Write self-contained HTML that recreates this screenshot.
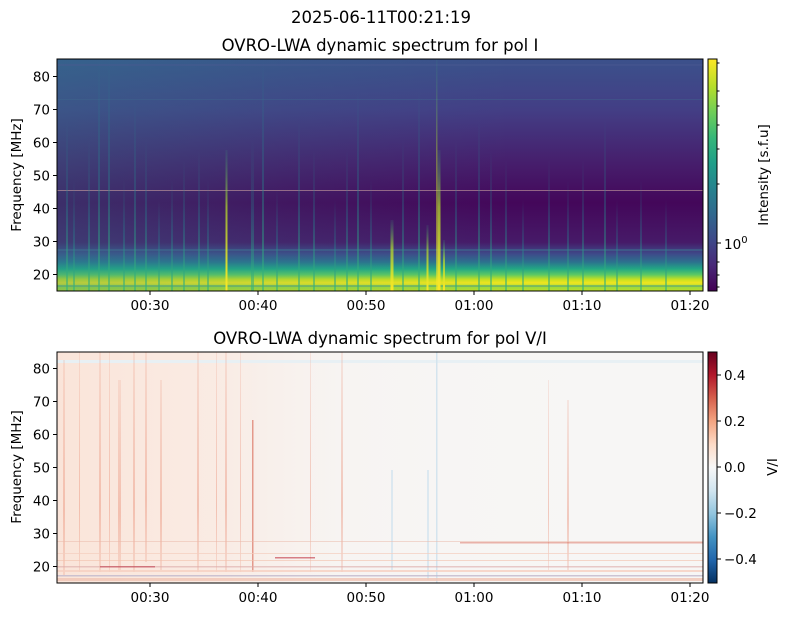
<!DOCTYPE html>
<html><head><meta charset="utf-8"><style>
body{margin:0;background:#fff;}
svg{display:block;font-family:"DejaVu Sans","Liberation Sans",sans-serif;}
</style></head><body>
<svg width="789" height="617" viewBox="0 0 789 617" xmlns="http://www.w3.org/2000/svg">
<defs>
<linearGradient id="vi" x1="0" y1="0" x2="0" y2="1">
<stop offset="0" stop-color="#3b518b"/>
<stop offset="0.22" stop-color="#433e85"/>
<stop offset="0.45" stop-color="#461e6c"/>
<stop offset="0.62" stop-color="#44075a"/>
<stop offset="0.79" stop-color="#461a68"/>
<stop offset="0.84" stop-color="#3e4a89"/>
<stop offset="0.875" stop-color="#2c718e"/>
<stop offset="0.905" stop-color="#22a884"/>
<stop offset="0.93" stop-color="#5ec962"/>
<stop offset="0.95" stop-color="#c8e020"/>
<stop offset="0.965" stop-color="#f0e51f"/>
<stop offset="0.985" stop-color="#9fda3a"/>
<stop offset="1" stop-color="#c0df25"/>
</linearGradient>
<linearGradient id="vih" x1="0" y1="0" x2="1" y2="0">
<stop offset="0" stop-color="#2a8a8e" stop-opacity="0.3"/>
<stop offset="0.35" stop-color="#2a8a8e" stop-opacity="0.12"/>
<stop offset="0.7" stop-color="#2a8a8e" stop-opacity="0"/>
</linearGradient>
<linearGradient id="cbv" x1="0" y1="1" x2="0" y2="0">
<stop offset="0" stop-color="#440154"/><stop offset="0.11" stop-color="#482878"/>
<stop offset="0.22" stop-color="#3e4989"/><stop offset="0.33" stop-color="#31688e"/>
<stop offset="0.44" stop-color="#26828e"/><stop offset="0.55" stop-color="#1f9e89"/>
<stop offset="0.66" stop-color="#35b779"/><stop offset="0.77" stop-color="#6ece58"/>
<stop offset="0.88" stop-color="#b5de2b"/><stop offset="1" stop-color="#fde725"/>
</linearGradient>
<linearGradient id="cbr" x1="0" y1="1" x2="0" y2="0">
<stop offset="0" stop-color="#053061"/><stop offset="0.1" stop-color="#2166ac"/>
<stop offset="0.2" stop-color="#4393c3"/><stop offset="0.3" stop-color="#92c5de"/>
<stop offset="0.4" stop-color="#d1e5f0"/><stop offset="0.5" stop-color="#f7f7f7"/>
<stop offset="0.6" stop-color="#fddbc7"/><stop offset="0.7" stop-color="#f4a582"/>
<stop offset="0.8" stop-color="#d6604d"/><stop offset="0.9" stop-color="#b2182b"/>
<stop offset="1" stop-color="#67001f"/>
</linearGradient>
<linearGradient id="burst" x1="0" y1="0" x2="0" y2="1">
<stop offset="0" stop-color="#26828e" stop-opacity="0"/>
<stop offset="0.5" stop-color="#26828e" stop-opacity="0.35"/>
<stop offset="1" stop-color="#35b779" stop-opacity="0.6"/>
</linearGradient>
<linearGradient id="ybur" x1="0" y1="0" x2="0" y2="1">
<stop offset="0" stop-color="#35b779" stop-opacity="0.1"/>
<stop offset="0.4" stop-color="#b5de2b" stop-opacity="0.7"/>
<stop offset="1" stop-color="#fde725"/>
</linearGradient>
<linearGradient id="redh" x1="0" y1="0" x2="1" y2="0">
<stop offset="0" stop-color="#fbe0d2" stop-opacity="0.8"/>
<stop offset="0.25" stop-color="#fbe4d8" stop-opacity="0.6"/>
<stop offset="0.45" stop-color="#f7f0ec" stop-opacity="0.3"/>
<stop offset="1" stop-color="#f7f7f7" stop-opacity="0"/>
</linearGradient>
<linearGradient id="rfade" x1="0" y1="0" x2="0" y2="1">
<stop offset="0" stop-color="#e8846a" stop-opacity="0.15"/>
<stop offset="0.7" stop-color="#e8846a" stop-opacity="0.4"/>
<stop offset="1" stop-color="#e8846a" stop-opacity="0.2"/>
</linearGradient>
</defs>

<text x="381" y="23" font-size="16.5" text-anchor="middle" fill="#000">2025-06-11T00:21:19</text>
<text x="380" y="51" font-size="16.5" text-anchor="middle" fill="#000">OVRO-LWA dynamic spectrum for pol I</text>
<text x="380" y="344" font-size="16.5" text-anchor="middle" fill="#000">OVRO-LWA dynamic spectrum for pol V/I</text>

<g>
<rect x="57" y="59" width="646" height="232" fill="url(#vi)"/>
<rect x="57" y="59" width="646" height="232" fill="url(#vih)"/>
<rect x="57" y="64" width="646" height="2" fill="#4a5a90" opacity="0.4"/>
<rect x="57" y="99" width="646" height="1" fill="#3e6a8e" opacity="0.4"/>
<rect x="57" y="190" width="646" height="1" fill="#c9a0a0" opacity="0.6"/>
<rect x="57" y="249" width="646" height="2" fill="#3e6a8e" opacity="0.6"/>
<rect x="57" y="285" width="646" height="2" fill="#3e9a8a" opacity="0.5"/>
<g fill="url(#burst)">
<rect x="66" y="120" width="2" height="171"/>
<rect x="73" y="180" width="2" height="111"/>
<rect x="88" y="140" width="2" height="151"/>
<rect x="98" y="59" width="2" height="232"/>
<rect x="108" y="59" width="2" height="232"/>
<rect x="123" y="180" width="2" height="111"/>
<rect x="134" y="100" width="2" height="191"/>
<rect x="145" y="140" width="2" height="151"/>
<rect x="158" y="200" width="2" height="91"/>
<rect x="171" y="180" width="2" height="111"/>
<rect x="183" y="160" width="2" height="131"/>
<rect x="198" y="150" width="2" height="141"/>
<rect x="207" y="180" width="2" height="111"/>
<rect x="251" y="140" width="3" height="151"/>
<rect x="262" y="59" width="2" height="232"/>
<rect x="276" y="190" width="2" height="101"/>
<rect x="298" y="120" width="2" height="171"/>
<rect x="313" y="150" width="2" height="141"/>
<rect x="334" y="200" width="2" height="91"/>
<rect x="346" y="150" width="2" height="141"/>
<rect x="357" y="90" width="2" height="201"/>
<rect x="370" y="180" width="2" height="111"/>
<rect x="402" y="140" width="2" height="151"/>
<rect x="418" y="90" width="2" height="201"/>
<rect x="455" y="140" width="2" height="151"/>
<rect x="478" y="120" width="2" height="171"/>
<rect x="490" y="150" width="2" height="141"/>
<rect x="505" y="160" width="2" height="131"/>
<rect x="522" y="200" width="2" height="91"/>
<rect x="548" y="160" width="2" height="131"/>
<rect x="567" y="180" width="2" height="111"/>
<rect x="582" y="160" width="2" height="131"/>
<rect x="604" y="120" width="2" height="171"/>
<rect x="616" y="200" width="2" height="91"/>
<rect x="640" y="180" width="2" height="111"/>
<rect x="665" y="200" width="2" height="91"/>
</g>
<g fill="url(#ybur)">
<rect x="225.5" y="150" width="2" height="141"/>
<rect x="390.5" y="220" width="3" height="71"/>
<rect x="426.5" y="225" width="2" height="66"/>
<rect x="436" y="59" width="1.5" height="232" opacity="0.6"/>
<rect x="437.5" y="150" width="3" height="141"/>
<rect x="443" y="240" width="2" height="51"/>
</g>
<rect x="57" y="59" width="646" height="232" fill="none" stroke="#000" stroke-width="1"/>
</g>
<rect x="708" y="59" width="9" height="232" fill="url(#cbv)" stroke="#000" stroke-width="1"/>
<g stroke="#000" stroke-width="1">
<line x1="717" y1="243" x2="721" y2="243"/>
<line x1="717" y1="63" x2="719.5" y2="63"/><line x1="717" y1="91" x2="719.5" y2="91"/>
<line x1="717" y1="106" x2="719.5" y2="106"/><line x1="717" y1="125" x2="719.5" y2="125"/>
<line x1="717" y1="149" x2="719.5" y2="149"/><line x1="717" y1="184" x2="719.5" y2="184"/>
<line x1="717" y1="262" x2="719.5" y2="262"/><line x1="717" y1="275" x2="719.5" y2="275"/>
<line x1="717" y1="287" x2="719.5" y2="287"/>
</g>
<text x="724" y="249" font-size="13.5">10<tspan dy="-6" font-size="10">0</tspan></text>
<text transform="translate(768,175) rotate(-90)" font-size="13.5" text-anchor="middle">Intensity [s.f.u]</text>

<g stroke="#000" stroke-width="1">
<line x1="53" y1="76.5" x2="57" y2="76.5"/><line x1="53" y1="109.5" x2="57" y2="109.5"/>
<line x1="53" y1="142.5" x2="57" y2="142.5"/><line x1="53" y1="175.5" x2="57" y2="175.5"/>
<line x1="53" y1="208.5" x2="57" y2="208.5"/><line x1="53" y1="241.5" x2="57" y2="241.5"/>
<line x1="53" y1="274.5" x2="57" y2="274.5"/>
<line x1="150" y1="291" x2="150" y2="295"/><line x1="258" y1="291" x2="258" y2="295"/>
<line x1="366" y1="291" x2="366" y2="295"/><line x1="474" y1="291" x2="474" y2="295"/>
<line x1="582" y1="291" x2="582" y2="295"/><line x1="690" y1="291" x2="690" y2="295"/>
</g>
<g font-size="13.5" text-anchor="end">
<text x="50" y="81.5">80</text><text x="50" y="114.5">70</text><text x="50" y="147.5">60</text>
<text x="50" y="180.5">50</text><text x="50" y="213.5">40</text><text x="50" y="246.5">30</text><text x="50" y="279.5">20</text>
</g>
<g font-size="13.5" text-anchor="middle">
<text x="150" y="310">00:30</text><text x="258" y="310">00:40</text><text x="366" y="310">00:50</text>
<text x="474" y="310">01:00</text><text x="582" y="310">01:10</text><text x="690" y="310">01:20</text>
</g>
<text transform="translate(21,175) rotate(-90)" font-size="13.5" text-anchor="middle">Frequency [MHz]</text>

<g>
<rect x="57" y="352" width="646" height="231" fill="#f7f6f5"/>
<rect x="57" y="352" width="646" height="231" fill="url(#redh)"/>
<rect x="57" y="360" width="646" height="3" fill="#e8f0f4"/>
<g fill="url(#rfade)">
<rect x="63" y="360" width="2" height="215"/><rect x="79" y="352" width="1" height="220"/>
<rect x="99" y="352" width="2" height="220"/><rect x="109" y="352" width="1" height="220"/>
<rect x="118" y="380" width="3" height="190"/><rect x="133" y="352" width="2" height="220"/>
<rect x="145" y="352" width="2" height="210"/><rect x="160" y="380" width="2" height="190"/>
<rect x="197" y="352" width="2" height="220"/><rect x="216" y="352" width="1" height="220"/>
<rect x="240" y="352" width="1" height="220"/><rect x="310" y="352" width="1" height="220"/>
<rect x="341" y="352" width="2" height="220"/><rect x="548" y="380" width="1" height="190"/>
<rect x="567" y="400" width="2" height="170"/><rect x="225" y="352" width="2" height="220"/>
</g>
<rect x="252" y="420" width="1.5" height="152" fill="#d6604d" opacity="0.6"/>
<rect x="436" y="352" width="1.5" height="231" fill="#d4e4ee"/>
<rect x="391" y="470" width="2" height="100" fill="#dce8f0"/>
<rect x="427" y="470" width="2" height="110" fill="#dce8f0"/>
<rect x="57" y="541" width="646" height="1" fill="#eab8a8" opacity="0.5"/>
<rect x="460" y="542" width="243" height="1.5" fill="#d6604d" opacity="0.45"/>
<rect x="57" y="553" width="646" height="1" fill="#f4cdbd" opacity="0.7"/>
<rect x="57" y="560" width="646" height="1" fill="#f2c0aa" opacity="0.6"/>
<rect x="57" y="566" width="646" height="1.5" fill="#dcaaa8" opacity="0.6"/>
<rect x="57" y="570" width="646" height="2" fill="#f6d0c0" opacity="0.8"/>
<rect x="57" y="575" width="646" height="1.5" fill="#c0b8cc" opacity="0.8"/>
<rect x="57" y="578" width="646" height="3" fill="#f0c4b4" opacity="0.8"/>
<rect x="100" y="566" width="55" height="1.5" fill="#c04050" opacity="0.6"/>
<rect x="275" y="557" width="40" height="1.5" fill="#c03040" opacity="0.6"/>
<rect x="57" y="352" width="646" height="231" fill="none" stroke="#000" stroke-width="1"/>
</g>
<rect x="708" y="352" width="9" height="231" fill="url(#cbr)" stroke="#000" stroke-width="1"/>
<g stroke="#000" stroke-width="1">
<line x1="717" y1="375" x2="721" y2="375"/><line x1="717" y1="421" x2="721" y2="421"/>
<line x1="717" y1="467" x2="721" y2="467"/><line x1="717" y1="513" x2="721" y2="513"/>
<line x1="717" y1="559" x2="721" y2="559"/>
</g>
<g font-size="13.5">
<text x="724" y="380">0.4</text><text x="724" y="426">0.2</text><text x="724" y="472">0.0</text>
<text x="724" y="518">−0.2</text><text x="724" y="564">−0.4</text>
</g>
<text transform="translate(777,467) rotate(-90)" font-size="13.5" text-anchor="middle">V/I</text>

<g stroke="#000" stroke-width="1">
<line x1="53" y1="368.5" x2="57" y2="368.5"/><line x1="53" y1="401.5" x2="57" y2="401.5"/>
<line x1="53" y1="434.5" x2="57" y2="434.5"/><line x1="53" y1="467.5" x2="57" y2="467.5"/>
<line x1="53" y1="500.5" x2="57" y2="500.5"/><line x1="53" y1="533.5" x2="57" y2="533.5"/>
<line x1="53" y1="566.5" x2="57" y2="566.5"/>
<line x1="150" y1="583" x2="150" y2="587"/><line x1="258" y1="583" x2="258" y2="587"/>
<line x1="366" y1="583" x2="366" y2="587"/><line x1="474" y1="583" x2="474" y2="587"/>
<line x1="582" y1="583" x2="582" y2="587"/><line x1="690" y1="583" x2="690" y2="587"/>
</g>
<g font-size="13.5" text-anchor="end">
<text x="50" y="373.5">80</text><text x="50" y="406.5">70</text><text x="50" y="439.5">60</text>
<text x="50" y="472.5">50</text><text x="50" y="505.5">40</text><text x="50" y="538.5">30</text><text x="50" y="571.5">20</text>
</g>
<g font-size="13.5" text-anchor="middle">
<text x="150" y="602">00:30</text><text x="258" y="602">00:40</text><text x="366" y="602">00:50</text>
<text x="474" y="602">01:00</text><text x="582" y="602">01:10</text><text x="690" y="602">01:20</text>
</g>
<text transform="translate(21,467) rotate(-90)" font-size="13.5" text-anchor="middle">Frequency [MHz]</text>
</svg>
</body></html>
